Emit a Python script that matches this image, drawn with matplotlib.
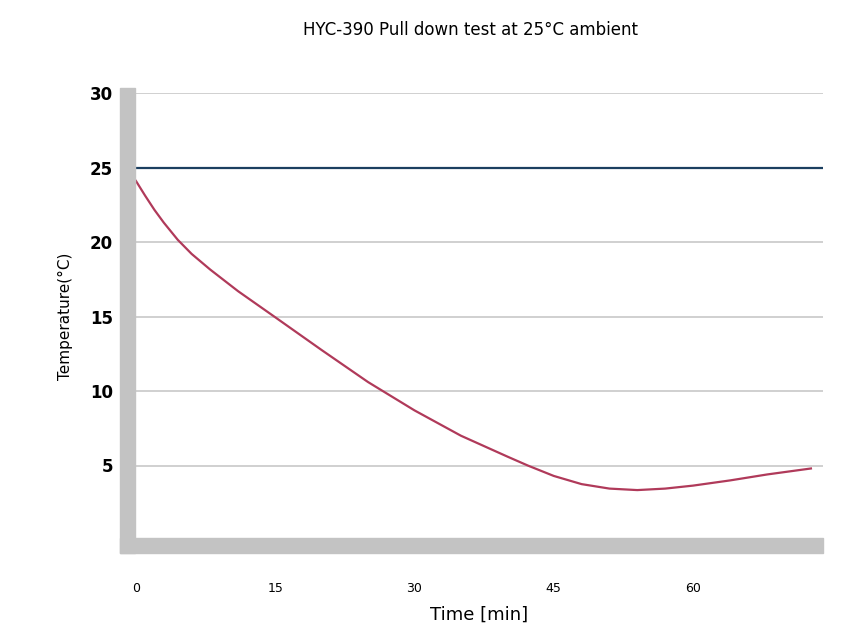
import numpy as np
import matplotlib.pyplot as plt
from matplotlib.patches import Rectangle

# data
time_min = [0, 1, 2, 3, 4.5, 6, 8, 11, 15, 20, 25, 30, 35, 40, 42.2, 45, 48, 51, 54, 57, 60, 64, 68, 72.7]
temp_c = [24.1, 23.1, 22.15, 21.3, 20.15, 19.2, 18.15, 16.7, 14.95, 12.75, 10.6, 8.7, 7.0, 5.6, 5.0, 4.3, 3.75,
          3.45, 3.35, 3.45, 3.65, 4.0, 4.4, 4.8]
ambient = 25
xticks = [0, 15, 30, 45, 60]
yticks = [5, 10, 15, 20, 25, 30]

W, H = 847, 635
fig = plt.figure(figsize=(W / 100, H / 100), dpi=100)

def fx(px):
    return px / W

def fy(py):
    return (H - py) / H

ax = fig.add_axes([fx(135), fy(540), fx(823) - fx(135), fy(93) - fy(540)])

# gray "3D" walls
wall = '#c3c3c3'
fig.patches.append(Rectangle((fx(120), fy(553)), fx(135) - fx(120), fy(88) - fy(553),
                             transform=fig.transFigure, color=wall, zorder=0))
fig.patches.append(Rectangle((fx(120), fy(553)), fx(823) - fx(120), fy(538) - fy(553),
                             transform=fig.transFigure, color=wall, zorder=0))

for y in yticks:
    ax.axhline(y, color='#c8c8c8', linewidth=1.2, zorder=1)

ax.axhline(ambient, color='#1b3f60', linewidth=1.6, zorder=3)
ax.plot(time_min, temp_c, color='#b03a5a', linewidth=1.6, zorder=4)

ax.set_xlim(-0.1, 74)
ax.set_ylim(0, 30)
ax.set_xticks(xticks)
ax.set_yticks(yticks)
ax.set_xticklabels([str(t) for t in xticks], fontsize=9)
ax.set_yticklabels([str(t) for t in yticks], fontsize=12, fontweight='bold')
ax.tick_params(axis='x', length=0, pad=30)
ax.tick_params(axis='y', length=0, pad=16)
for s in ax.spines.values():
    s.set_visible(False)
ax.patch.set_alpha(0)

ax.set_xlabel('Time [min]', fontsize=13, labelpad=8)
ax.set_ylabel('Temperature(°C)', fontsize=11, labelpad=12)
fig.text(fx(470), fy(30), 'HYC-390 Pull down test at 25°C ambient', ha='center', va='center', fontsize=12)

fig.savefig('out.png', dpi=100)
